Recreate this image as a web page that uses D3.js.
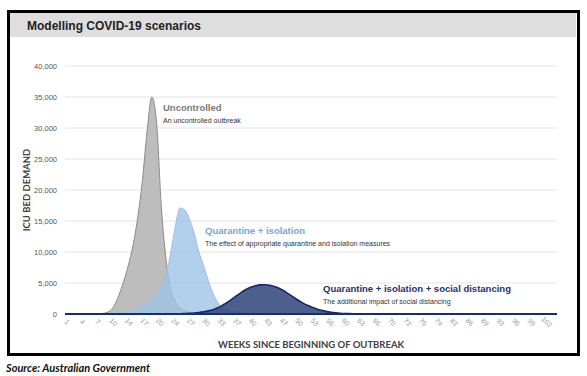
<!DOCTYPE html>
<html><head><meta charset="utf-8">
<script src="https://cdn.jsdelivr.net/npm/d3@7"></script>
<style>body{margin:0;background:#fff}svg{display:block}</style>
</head><body><svg id="c" width="587" height="376"></svg>
<script>
// ---- data (weekly estimates) ----
const weeks = [1,2,3,4,5,6,7,8,9,10,11,12,13,14,15,16,17,18,19,20,21,22,23,24,25,26,27,28,29,30,31,32,33,34,35,36,37,38,39,40,41,42,43,44,45,46,47,48,49,50,51,52,53,54,55,56,57,58,59,60,61,62,63,64];
const uncontrolled = [0,0,0,0,0,0,0,50,150,450,1300,3000,5200,7800,11000,15500,21500,29500,35000,31000,17500,9000,4000,2000,1000,500,250,100,50,0,0,0,0,0,0,0,0,0,0,0,0,0,0,0,0,0,0,0,0,0,0,0,0,0,0,0,0,0,0,0,0,0,0,0];
const quarantine = [0,0,0,0,0,0,0,0,20,40,80,150,250,400,600,900,1300,1800,2400,3200,4300,6200,9800,14200,17100,16800,15300,13000,10000,7800,5400,3300,1900,1100,650,400,250,150,80,40,20,0,0,0,0,0,0,0,0,0,0,0,0,0,0,0,0,0,0,0,0,0,0,0];
const distancing = [0,0,0,0,0,0,0,0,0,0,0,0,0,0,0,0,0,0,0,0,0,0,0,20,40,70,110,170,250,360,500,700,1000,1400,1850,2400,2950,3500,3950,4300,4550,4700,4720,4650,4450,4150,3750,3250,2750,2250,1800,1400,1100,820,600,420,290,200,130,85,55,35,20,10];
const yTicks = [0,5000,10000,15000,20000,25000,30000,35000,40000];
const xTickLabels = ["1","4","7","10","14","17","20","24","27","30","33","37","40","43","47","50","53","56","60","63","66","70","73","76","79","83","86","89","93","96","99","102"];
const seriesNames = ["Uncontrolled","Quarantine + isolation","Quarantine + isolation + social distancing"];
const seriesNotes = ["An uncontrolled outbreak","The effect of appropriate quarantine and isolation measures","The additional impact of social distancing"];

const svg = d3.select("#c");
svg.append("rect").attr("width",587).attr("height",376).attr("fill","#fff");

// title band + frame
svg.append("rect").attr("x",10).attr("y",13).attr("width",566).attr("height",24).attr("fill","#dedede");
svg.append("text").attr("x",27).attr("y",30).text("Modelling COVID-19 scenarios")
  .attr("font-family","Liberation Sans, Arial, sans-serif").attr("font-weight","bold").attr("font-size",12).attr("fill","#222");
svg.append("rect").attr("x",8.5).attr("y",11.5).attr("width",570).attr("height",343)
  .attr("fill","none").attr("stroke","#000").attr("stroke-width",3);

const x = d3.scaleLinear().domain([1,105]).range([67,557]);
const y = d3.scaleLinear().domain([0,40000]).range([314,66]);

// gridlines
svg.append("g").selectAll("line").data(yTicks.slice(1)).join("line")
  .attr("x1",65).attr("x2",557).attr("y1",d=>y(d)).attr("y2",d=>y(d))
  .attr("stroke","#e4e4e4").attr("stroke-width",1);

// y axis labels
svg.append("g").selectAll("text").data(yTicks).join("text")
  .attr("x",57).attr("y",d=>y(d)).attr("dy","0.35em").attr("text-anchor","end")
  .attr("font-family","Liberation Sans, Arial, sans-serif").attr("font-size",7.5).attr("fill","#555")
  .text(d=>d3.format(",")(d));

// areas
const area = d3.area().curve(d3.curveMonotoneX).x((d,i)=>x(weeks[i])).y0(y(0)).y1(d=>y(d));
const line = d3.line().curve(d3.curveMonotoneX).x((d,i)=>x(weeks[i])).y(d=>y(d));
const styles = [
  {fill:"#b9b9b9", op:0.95, stroke:"#8a8a8a", sw:1},
  {fill:"#9cc2e5", op:0.78, stroke:"#9cc2e5", sw:1},
  {fill:"#34497d", op:0.88, stroke:"#14286a", sw:1.6}
];
[uncontrolled, quarantine, distancing].forEach((s,k)=>{
  svg.append("path").datum(s).attr("d",area).attr("fill",styles[k].fill).attr("fill-opacity",styles[k].op);
  svg.append("path").datum(s).attr("d",line).attr("fill","none").attr("stroke",styles[k].stroke).attr("stroke-width",styles[k].sw).attr("stroke-linejoin","round");
});

// zero baseline (navy series at zero)
svg.append("line").attr("x1",65).attr("x2",557).attr("y1",y(0)).attr("y2",y(0))
  .attr("stroke","#1b2c6b").attr("stroke-width",2);

// x tick labels: one every 23 days
const xt = svg.append("g");
xTickLabels.forEach((lab,i)=>{
  const px = x(1 + i*23/7);
  xt.append("text").attr("transform",`translate(${px},322) rotate(45)`)
    .attr("text-anchor","middle").attr("dy","0.35em")
    .attr("font-family","Liberation Sans, Arial, sans-serif").attr("font-size",7).attr("fill","#9a9a9a")
    .text(lab);
});

// axis titles
svg.append("text").attr("transform","translate(30,190) rotate(-90)").attr("text-anchor","middle")
  .attr("font-family","Lato, Open Sans, sans-serif").attr("font-weight","bold").attr("font-size",9.5).attr("fill","#404040")
  .text("ICU BED DEMAND");
svg.append("text").attr("x",311).attr("y",348).attr("text-anchor","middle")
  .attr("font-family","Lato, Open Sans, sans-serif").attr("font-weight","bold").attr("font-size",9.5).attr("fill","#404040")
  .text("WEEKS SINCE BEGINNING OF OUTBREAK");

// annotations
const ann = [
  {x:163, y:111, c:"#7a7a7a"},
  {x:205, y:234, c:"#6fa8dc"},
  {x:323, y:292, c:"#1f3268"}
];
ann.forEach((a,k)=>{
  svg.append("text").attr("x",a.x).attr("y",a.y).text(seriesNames[k])
    .attr("font-family","Liberation Sans, Arial, sans-serif").attr("font-weight","bold").attr("font-size",9.5).attr("fill",a.c);
  svg.append("text").attr("x",a.x).attr("y",a.y+12).text(seriesNotes[k])
    .attr("font-family","Liberation Sans, Arial, sans-serif").attr("font-size",7).attr("fill","#333");
});

// source
svg.append("text").attr("x",6).attr("y",372).text("Source: Australian Government")
  .attr("font-family","Lato, Carlito, sans-serif").attr("font-weight","bold").attr("font-style","italic").attr("font-size",11).attr("fill","#111");
</script></body></html>
